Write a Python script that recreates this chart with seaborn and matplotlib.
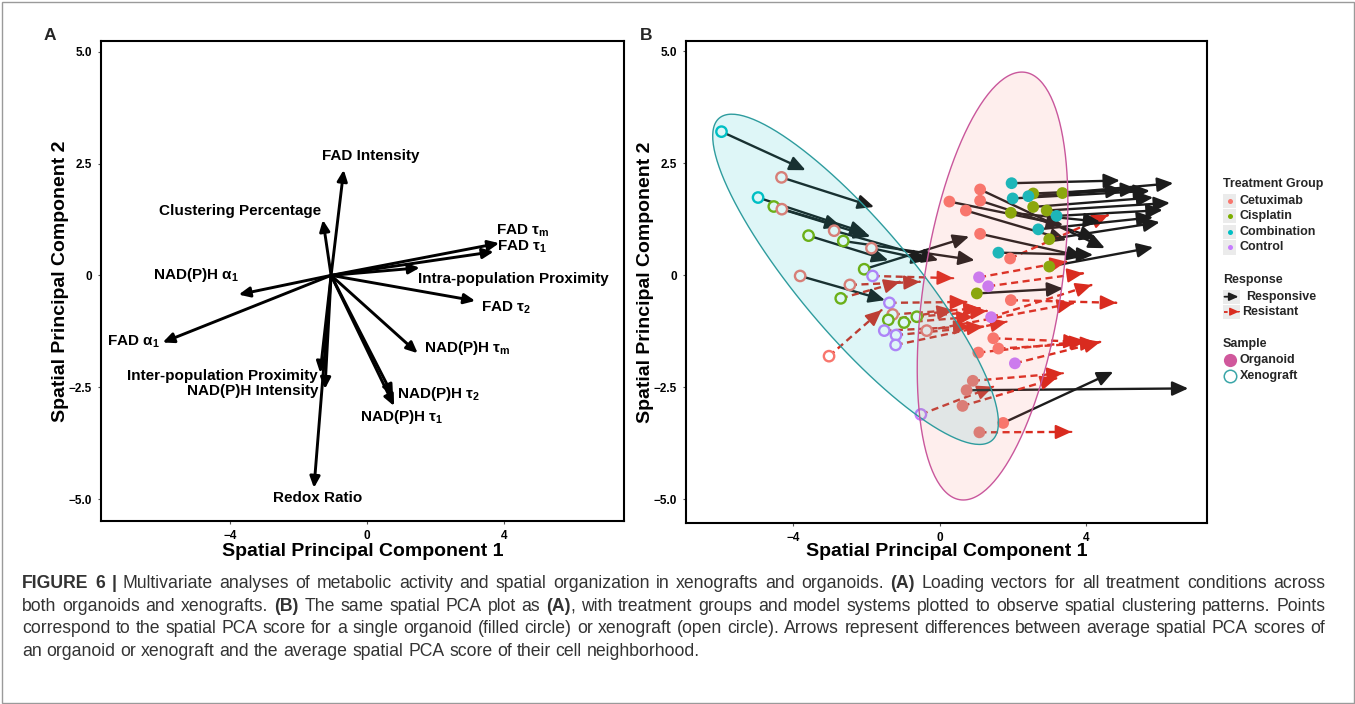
import numpy as np
import pandas as pd
import matplotlib
matplotlib.use("Agg")
import matplotlib.pyplot as plt
import seaborn as sns
from matplotlib import font_manager
from matplotlib.patches import Rectangle

# ---------------- Panel A: loading vectors ----------------
loading_labels = ["FAD Intensity", "Clustering Percentage", r"FAD τ$_\mathbf{m}$", r"FAD τ$_\mathbf{1}$",
                  "Intra-population Proximity", r"FAD τ$_\mathbf{2}$", r"NAD(P)H α$_\mathbf{1}$",
                  r"FAD α$_\mathbf{1}$", r"NAD(P)H τ$_\mathbf{m}$", r"NAD(P)H τ$_\mathbf{2}$",
                  r"NAD(P)H τ$_\mathbf{1}$", "Inter-population Proximity", "NAD(P)H Intensity", "Redox Ratio"]
loading_pc1 = [-0.68, -1.29, 3.86, 3.70, 1.54, 3.16, -3.75, -5.97, 1.48, 0.76, 0.79, -1.37, -1.23, -1.55]
loading_pc2 = [2.36, 1.24, 0.72, 0.53, 0.17, -0.57, -0.43, -1.50, -1.74, -2.70, -2.92, -2.18, -2.54, -4.75]
loading_origin = [-1.05, 0.0]

# ---------------- Panel B: spatial PCA scores ----------------
groups = ["Cetuximab", "Cisplatin", "Combination", "Control"]

xeno_group = ["Combination", "Cetuximab", "Combination", "Cisplatin", "Cetuximab", "Cetuximab", "Cisplatin",
              "Cisplatin", "Cetuximab", "Cisplatin", "Control", "Cetuximab", "Cetuximab", "Cisplatin", "Control",
              "Cetuximab", "Cisplatin", "Cisplatin", "Cisplatin", "Control", "Control", "Control", "Cetuximab",
              "Cetuximab", "Control"]
xeno_pc1 = [-5.96, -4.32, -4.96, -4.53, -4.31, -2.88, -2.63, -3.58, -1.86, -2.06, -1.83, -3.81, -2.45, -2.70,
            -1.37, -1.28, -1.40, -0.97, -0.62, -1.51, -1.19, -1.20, -0.35, -3.02, -0.51]
xeno_pc2 = [3.20, 2.18, 1.73, 1.53, 1.47, 0.99, 0.76, 0.88, 0.60, 0.13, -0.02, -0.02, -0.22, -0.52,
            -0.62, -0.88, -1.00, -1.06, -0.93, -1.24, -1.34, -1.56, -1.24, -1.81, -3.11]
xeno_nb_pc1 = [-3.66, -1.79, -1.99, -2.68, -1.89, -0.03, 0.96, -1.40, -0.32, 0.81, 0.38, -1.49, -0.53, -1.08,
               0.74, 1.11, 0.38, 0.92, 1.30, 0.83, 1.20, 1.84, 3.66, -1.58, 1.47]
xeno_nb_pc2 = [2.34, 1.52, 0.93, 1.08, 0.86, 0.33, 0.33, 0.33, 0.33, 0.86, -0.07, -0.56, -0.15, -0.15,
               -0.60, -0.74, -0.78, -0.93, -0.80, -1.15, -1.15, -1.04, -0.63, -0.78, -2.49]
xeno_response = ["Responsive"] * 10 + ["Resistant", "Responsive"] + ["Resistant"] * 13

org_group = ["Cetuximab"] * 15 + ["Cisplatin"] * 8 + ["Combination"] * 6 + ["Control"] * 4
org_pc1 = [1.11, 1.11, 0.27, 0.72, 1.11, 1.93, 1.95, 1.47, 1.61, 1.06, 0.91, 0.74, 0.63, 1.74, 1.09,
           2.56, 3.36, 2.56, 2.93, 1.95, 3.00, 3.00, 1.02,
           1.97, 2.00, 2.43, 3.20, 2.70, 1.61,
           1.08, 1.33, 1.41, 2.06]
org_pc2 = [1.91, 1.66, 1.64, 1.44, 0.92, 0.37, -0.56, -1.41, -1.64, -1.73, -2.36, -2.57, -2.92, -3.30, -3.51,
           1.82, 1.83, 1.52, 1.44, 1.39, 0.80, 0.19, -0.41,
           2.05, 1.71, 1.76, 1.32, 1.02, 0.50,
           -0.05, -0.25, -0.94, -1.97]
org_nb_pc1 = [4.52, 4.29, 3.38, 3.47, 3.93, 4.61, 4.84, 3.84, 4.30, 4.00, 3.38, 6.80, 3.20, 4.75, 3.61,
              5.40, 6.39, 5.84, 6.30, 4.39, 6.02, 5.84, 3.38,
              4.93, 5.75, 5.00, 6.10, 5.84, 4.20,
              3.47, 3.93, 4.16, 4.40]
org_nb_pc2 = [0.60, 0.82, 1.12, 0.78, 0.41, 1.34, -0.62, -1.49, -1.51, -1.47, -2.19, -2.53, -2.30, -2.16, -3.50,
              1.92, 2.05, 1.73, 1.61, 1.19, 1.18, 0.62, -0.30,
              2.11, 1.88, 1.90, 1.45, 1.29, 0.45,
              0.30, 0.04, -0.22, -1.49]
org_response = (["Responsive"] * 5 + ["Resistant"] * 6 + ["Responsive", "Resistant", "Responsive", "Resistant"]
                + ["Responsive"] * 8 + ["Responsive"] * 6 + ["Resistant"] * 4)

# 95% confidence ellipses (centre and shape matrix, in PC units)
xeno_ellipse_center = [-2.295, -0.095]
xeno_ellipse_shape = [[15.25, -12.47], [-12.47, 13.58]]
org_ellipse_center = [1.45, -0.245]
org_ellipse_shape = [[4.24, 3.82], [3.82, 22.8]]

y_ticks = [-5.0, -2.5, 0.0, 2.5, 5.0]
y_tick_labels = ["\u22125.0", "\u22122.5", "0", "2.5", "5.0"]
x_ticks = [-4, 0, 4]
x_tick_labels = ["\u22124", "0", "4"]

caption_lines = [
    [("FIGURE 6 |", "bold"), (" Multivariate analyses of metabolic activity and spatial organization in xenografts and organoids. ", "normal"),
     ("(A)", "bold"), (" Loading vectors for all treatment conditions across", "normal")],
    [("both organoids and xenografts. ", "normal"), ("(B)", "bold"), (" The same spatial PCA plot as ", "normal"),
     ("(A)", "bold"), (", with treatment groups and model systems plotted to observe spatial clustering patterns. Points", "normal")],
    [("correspond to the spatial PCA score for a single organoid (filled circle) or xenograft (open circle). Arrows represent differences between average spatial PCA scores of", "normal")],
    [("an organoid or xenograft and the average spatial PCA score of their cell neighborhood.", "normal")],
]

# ---------------- styling ----------------
sns.set_theme(style="white")
plt.rcParams["font.family"] = ["Liberation Sans", "DejaVu Sans"]
plt.rcParams["mathtext.fontset"] = "custom"
plt.rcParams["mathtext.rm"] = "Liberation Sans"
plt.rcParams["mathtext.bf"] = "Liberation Sans:bold"
plt.rcParams["mathtext.it"] = "Liberation Sans:italic"

palette = {"Cetuximab": "#F8766D", "Cisplatin": "#7CAE00", "Combination": "#00BFC4", "Control": "#C77CFF"}
resp_color = {"Responsive": "#1C1C1C", "Resistant": "#D92B1F"}

W, H = 1355, 704
fig = plt.figure(figsize=(W / 100, H / 100), dpi=100)
fig.patch.set_facecolor("white")


def rect(l, t, r, b):
    return [l / W, 1 - b / H, (r - l) / W, (b - t) / H]


axA = fig.add_axes(rect(101, 40.7, 623.5, 521))
axB = fig.add_axes(rect(686, 40.7, 1207.3, 523.3))

for ax in (axA, axB):
    ax.set_facecolor("white")
    for s in ax.spines.values():
        s.set_visible(True)
        s.set_linewidth(1.5)
        s.set_color("black")
    ax.set_yticks(y_ticks, y_tick_labels)
    ax.set_xticks(x_ticks, x_tick_labels)
    ax.tick_params(axis="both", length=2.5, width=0.8, color="#555555", pad=4,
                   labelsize=8.5, labelcolor="black", left=True, bottom=True)
    for lab in ax.get_xticklabels() + ax.get_yticklabels():
        lab.set_fontweight("bold")
    ax.grid(False)

axA.set_xlim(-7.77, 7.49)
axA.set_ylim(-5.49, 5.245)
axB.set_xlim(-6.93, 7.32)
axB.set_ylim(-5.54, 5.23)

# ---------------- Panel A ----------------
label_layout = [  # (x, y, ha) text anchor of each loading label
    (0.10, 2.66, "center"), (-1.35, 1.43, "right"), (3.78, 1.00, "left"), (3.80, 0.64, "left"),
    (1.50, -0.07, "left"), (3.34, -0.72, "left"), (-3.75, 0.00, "right"), (-6.05, -1.49, "right"),
    (1.66, -1.62, "left"), (0.88, -2.66, "left"), (1.00, -3.17, "center"), (-1.43, -2.26, "right"),
    (-1.43, -2.59, "right"), (-1.43, -4.97, "center"),
]
for name, px, py, (tx, ty, ha) in zip(loading_labels, loading_pc1, loading_pc2, label_layout):
    axA.annotate("", xy=(px, py), xytext=(loading_origin[0], loading_origin[1]),
                 arrowprops=dict(arrowstyle="-|>,head_length=0.55,head_width=0.25", color="black",
                                 lw=2.1, shrinkA=0, shrinkB=0))
    axA.text(tx, ty, name, ha=ha, va="center", fontsize=11, fontweight="bold", color="black")

# ---------------- Panel B ----------------
xeno = pd.DataFrame(dict(group=xeno_group, pc1=xeno_pc1, pc2=xeno_pc2, nb1=xeno_nb_pc1, nb2=xeno_nb_pc2,
                         response=xeno_response, sample="Xenograft"))
org = pd.DataFrame(dict(group=org_group, pc1=org_pc1, pc2=org_pc2, nb1=org_nb_pc1, nb2=org_nb_pc2,
                        response=org_response, sample="Organoid"))
df = pd.concat([xeno, org], ignore_index=True)

HEAD = "-|>,head_length=0.8,head_width=0.36"
for r in df.itertuples():
    col = resp_color[r.response]
    if r.response == "Resistant":
        axB.plot([r.pc1, r.nb1], [r.pc2, r.nb2], color=col, lw=1.7, dashes=(3.0, 1.9),
                 dash_capstyle="butt", zorder=2)
        axB.annotate("", xy=(r.nb1, r.nb2),
                     xytext=(r.nb1 - 0.002 * (r.nb1 - r.pc1), r.nb2 - 0.002 * (r.nb2 - r.pc2)),
                     arrowprops=dict(arrowstyle=HEAD, color=col, lw=1.5, shrinkA=0, shrinkB=0), zorder=2)
    else:
        axB.annotate("", xy=(r.nb1, r.nb2), xytext=(r.pc1, r.pc2),
                     arrowprops=dict(arrowstyle=HEAD, color=col, lw=1.7, shrinkA=0, shrinkB=0), zorder=2)

sns.scatterplot(data=org, x="pc1", y="pc2", hue="group", hue_order=groups, palette=palette, s=72,
                edgecolor="none", linewidth=0, legend=False, ax=axB, zorder=3)
sns.scatterplot(data=xeno, x="pc1", y="pc2", hue="group", hue_order=groups, palette=palette, s=56,
                legend=False, ax=axB, zorder=3)
coll = axB.collections[-1]
fc = coll.get_facecolors()
coll.set_edgecolors(fc)
coll.set_facecolors("white")
coll.set_linewidths(1.7)


def ellipse(center, shape, n=240):
    c = np.asarray(center, dtype=float)
    L = np.linalg.cholesky(np.asarray(shape, dtype=float))
    t = np.linspace(0, 2 * np.pi, n)
    e = c[:, None] + L @ np.vstack([np.cos(t), np.sin(t)])
    return e[0], e[1]


ex, ey = ellipse(xeno_ellipse_center, xeno_ellipse_shape)
axB.fill(ex, ey, facecolor="#00BFC4", alpha=0.13, edgecolor="none", zorder=4)
axB.plot(ex, ey, color="#2E9C9E", lw=1.0, zorder=4.1)
ox, oy = ellipse(org_ellipse_center, org_ellipse_shape)
axB.fill(ox, oy, facecolor="#F8766D", alpha=0.12, edgecolor="none", zorder=4)
axB.plot(ox, oy, color="#C9579C", lw=1.0, zorder=4.1)

for ax in (axA, axB):
    ax.set_xlabel("Spatial Principal Component 1", fontsize=14, fontweight="bold", color="black")
    ax.set_ylabel("Spatial Principal Component 2", fontsize=14, fontweight="bold", color="black")
axA.xaxis.set_label_coords(0.5, (521 - 543) / 480.3)
axB.xaxis.set_label_coords(0.5, (523.3 - 543) / 482.6)
axA.yaxis.set_label_coords((69 - 101) / 522.5, 0.5)
axB.yaxis.set_label_coords((654 - 686) / 521.3, 0.5)

# ---------------- overlay: letters, legend, caption, border ----------------
ov = fig.add_axes([0, 0, 1, 1], zorder=10)
ov.set_xlim(0, W)
ov.set_ylim(H, 0)
ov.axis("off")
ov.patch.set_visible(False)

ov.add_patch(Rectangle((1.5, 1.5), W - 3, H - 3, fill=False, edgecolor="#9a9a9a", lw=1.0))
ov.text(50, 36, "A", fontsize=12.5, fontweight="bold", ha="center", va="center")
ov.text(646, 36, "B", fontsize=12.5, fontweight="bold", ha="center", va="center")

LX = 1222.7
LFS = 9
ov.text(LX, 184, "Treatment Group", fontsize=LFS, fontweight="bold", ha="left", va="center")
for yy, g in zip([200.7, 216.2, 231.7, 247.3], groups):
    ov.add_patch(Rectangle((1223, yy - 7.2), 13.3, 14.4, facecolor="#EBEBEB", edgecolor="none"))
    ov.plot([1229.6], [yy], "o", ms=3.6, color=palette[g], mec="none")
    ov.text(1240, yy, g, fontsize=LFS, fontweight="bold", ha="left", va="center")

ov.text(LX, 280, "Response", fontsize=LFS, fontweight="bold", ha="left", va="center")
for yy in (296.7, 311.7):
    ov.add_patch(Rectangle((1223, yy - 7.2), 16.5, 14.4, facecolor="#EBEBEB", edgecolor="none"))
ov.annotate("", xy=(1238.5, 296.7), xytext=(1224.5, 296.7),
            arrowprops=dict(arrowstyle="-|>,head_length=0.45,head_width=0.2", color=resp_color["Responsive"],
                            lw=1.3, shrinkA=0, shrinkB=0))
ov.plot([1224, 1233], [311.7, 311.7], color=resp_color["Resistant"], lw=1.3, dashes=(2.0, 1.5))
ov.annotate("", xy=(1239, 311.7), xytext=(1238.9, 311.7),
            arrowprops=dict(arrowstyle="-|>,head_length=0.45,head_width=0.2", color=resp_color["Resistant"],
                            lw=1.0, shrinkA=0, shrinkB=0))
ov.text(1246, 296.7, "Responsive", fontsize=LFS, fontweight="bold", ha="left", va="center")
ov.text(1241.7, 311.7, "Resistant", fontsize=LFS, fontweight="bold", ha="left", va="center")

ov.text(LX, 344, "Sample", fontsize=LFS, fontweight="bold", ha="left", va="center")
ov.plot([1230], [359.5], "o", ms=9.5, color="#D0589C", mec="none")
ov.plot([1230], [376], "o", ms=9.0, mfc="white", mec="#3AA6A8", mew=1.1)
ov.text(1240, 359.5, "Organoid", fontsize=LFS, fontweight="bold", ha="left", va="center")
ov.text(1240, 376, "Xenograft", fontsize=LFS, fontweight="bold", ha="left", va="center")

# ---------------- caption: justified rich-text layout ----------------
names = {f.name for f in font_manager.fontManager.ttflist}
cap_family = "Liberation Sans Narrow" if "Liberation Sans Narrow" in names else "Liberation Sans"
fig.canvas.draw()
renderer = fig.canvas.get_renderer()


def text_width(s, size, weight):
    t = ov.text(0, 0, s, fontsize=size, fontweight=weight, family=cap_family)
    w = t.get_window_extent(renderer).width
    t.remove()
    return w


def split_words(line):
    words, cur = [], []
    for seg, weight in line:
        for ch in seg:
            if ch == " ":
                if cur:
                    words.append(cur)
                    cur = []
            else:
                if cur and cur[-1][1] == weight:
                    cur[-1] = (cur[-1][0] + ch, weight)
                else:
                    cur.append((ch, weight))
    if cur:
        words.append(cur)
    return words


LEFT, RIGHT = 22.0, 1325.0
line_words = [split_words(l) for l in caption_lines]


def natural_width(words, size):
    sp = text_width("a a", size, "normal") - text_width("aa", size, "normal")
    return sum(text_width(t, size, w) for word in words for t, w in word) + sp * (len(words) - 1)


base = 12.0
longest = max(natural_width(ws, base) for ws in line_words[:3])
cap_size = base * (RIGHT - LEFT) / longest * 0.995
space_w = text_width("a a", cap_size, "normal") - text_width("aa", cap_size, "normal")

baselines = [588, 611, 633, 656]
for li, (words, yb) in enumerate(zip(line_words, baselines)):
    widths = [[text_width(t, cap_size, w) for t, w in word] for word in words]
    total = sum(sum(ws) for ws in widths)
    if li < 3 and len(words) > 1:
        gap = (RIGHT - LEFT - total) / (len(words) - 1)
    else:
        gap = space_w
    x = LEFT
    for word, ws in zip(words, widths):
        for (t, w), tw in zip(word, ws):
            ov.text(x, yb, t, fontsize=cap_size, fontweight=w, family=cap_family,
                    ha="left", va="baseline", color="#333333")
            x += tw
        x += gap

fig.savefig("out.png", dpi=100, facecolor="white")
